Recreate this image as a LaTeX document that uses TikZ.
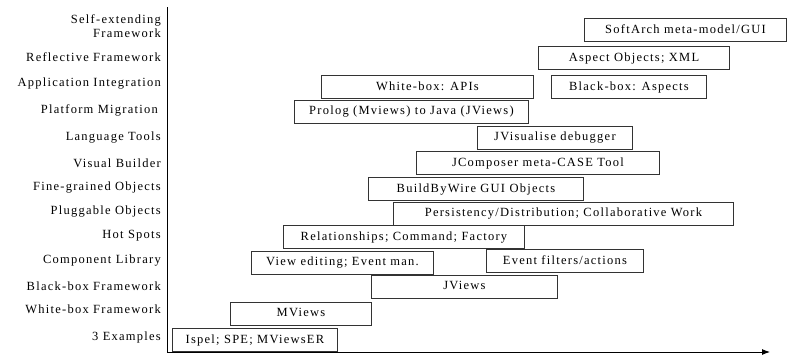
\documentclass[tikz,border=0pt]{standalone}
\usepackage{fontspec}
\setmainfont{Liberation Serif}[LetterSpace=10]
\usepackage{tikz}
\usetikzlibrary{arrows.meta}

\tikzset{
    stage/.style={anchor=east, align=right, inner sep=0pt,
        font=\fontsize{12.5}{14.5}\selectfont},
    work/.style={draw=black!80, line width=0.9pt, anchor=west, minimum height=23pt,
        inner sep=0pt, text height=9pt, text depth=3pt,
        font=\fontsize{12.5}{14.5}\selectfont},
}

\begin{document}
\begin{tikzpicture}[x=1pt, y=-1pt]
    \useasboundingbox (0,0) rectangle (797,356);
    \coordinate (origin) at (167,352);
    \coordinate (ytop) at (167,7);
    \coordinate (xend) at (770,352);
    \draw[line width=0.9pt] (ytop) -- (origin);
    \draw[line width=0.9pt, -{Latex[length=8pt, width=6pt]}] (origin) -- (xend);

    \node[stage] (selfext) at (161,26) {Self-extending\\Framework};
    \node[stage] (reflect) at (161,57) {Reflective Framework};
    \node[stage] (appint) at (161,84) {Application Integration};
    \node[stage] (platmig) at (158,110) {Platform Migration};
    \node[stage] (langtools) at (161,138) {Language Tools};
    \node[stage] (visbuild) at (161,163) {Visual Builder};
    \node[stage] (finegrain) at (161,188) {Fine-grained Objects};
    \node[stage] (pluggable) at (161,212) {Pluggable Objects};
    \node[stage] (hotspots) at (161,236) {Hot Spots};
    \node[stage] (complib) at (161,261) {Component Library};
    \node[stage] (blackbox) at (161,286) {Black-box Framework};
    \node[stage] (whitebox) at (161,309) {White-box Framework};
    \node[stage] (examples) at (161,337) {3 Examples};

    \node[work, minimum width=202pt] (softarch) at (584,30) {SoftArch meta-model/GUI};
    \node[work, minimum width=191pt] (aspectobj) at (538,58) {Aspect Objects; XML};
    \node[work, minimum width=212pt] (wbapis) at (321,87) {White-box: APIs};
    \node[work, minimum width=155pt] (bbaspects) at (551,87) {Black-box: Aspects};
    \node[work, minimum width=234pt] (prolog) at (294,111.5) {Prolog (Mviews) to Java (JViews)};
    \node[work, minimum width=155pt] (jvisualise) at (477,137.5) {JVisualise debugger};
    \node[work, minimum width=243pt] (jcomposer) at (416,163) {JComposer meta-CASE Tool};
    \node[work, minimum width=215pt] (buildbywire) at (368,189) {BuildByWire GUI Objects};
    \node[work, minimum width=340pt] (persist) at (393,213.5) {Persistency/Distribution; Collaborative Work};
    \node[work, minimum width=241pt] (relations) at (283,237) {Relationships; Command; Factory};
    \node[work, minimum width=182pt] (viewedit) at (251,262.5) {View editing; Event man.};
    \node[work, minimum width=157pt] (evfilters) at (486,261) {Event filters/actions};
    \node[work, minimum width=186pt] (jviews) at (371,286.5) {JViews};
    \node[work, minimum width=141pt] (mviews) at (230,313.5) {MViews};
    \node[work, minimum width=165pt] (ispel) at (172,340) {Ispel; SPE; MViewsER};
\end{tikzpicture}
\end{document}
